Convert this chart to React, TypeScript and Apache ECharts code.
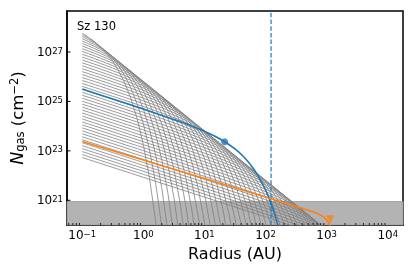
import React, { useEffect, useRef } from "react";
import * as echarts from "echarts";

// All positions are log10 values: x = log10(Radius / AU), y = log10(N_gas / cm^-2)
const X_MIN = -1.25;
const X_MAX = 4.25;
const Y_MIN = 20;
const Y_MAX = 28.66;
const START_LOG_R = -1;

const xTickExponents = [-1, 0, 1, 2, 3, 4];
const yTickExponents = [21, 23, 25, 27];
const minorDecades = [-2, -1, 0, 1, 2, 3, 4];
const minorMultipliers = [2, 3, 4, 5, 6, 7, 8, 9];

// Shape of one grey model curve (same profile, shifted for each cut-off radius)
const grayProfileLogR = [
  -4.6, -4.5, -4.4, -4.3, -4.2, -4.1, -4.0, -3.9, -3.8, -3.7, -3.6, -3.5, -3.4, -3.3, -3.2, -3.1,
  -3.0, -2.9, -2.8, -2.7, -2.6, -2.5, -2.4, -2.3, -2.2, -2.1, -2.0, -1.9, -1.8, -1.7, -1.6, -1.5,
  -1.4, -1.3, -1.2, -1.1, -1.0, -0.9, -0.8, -0.7, -0.6, -0.5, -0.4, -0.3, -0.2, -0.1, 0.0, 0.1,
  0.2, 0.3, 0.4, 0.5, 0.6, 0.7, 0.8, 0.9, 1.0, 1.1,
];
const grayProfileLogN = [
  3.68, 3.6, 3.52, 3.44, 3.36, 3.28, 3.2, 3.12, 3.04, 2.96, 2.88, 2.8, 2.72, 2.64, 2.56, 2.48,
  2.4, 2.32, 2.24, 2.16, 2.08, 2.0, 1.92, 1.839, 1.759, 1.679, 1.598, 1.518, 1.437, 1.356, 1.275, 1.193,
  1.111, 1.028, 0.944, 0.859, 0.773, 0.684, 0.592, 0.497, 0.397, 0.291, 0.176, 0.051, -0.09, -0.249, -0.434, -0.652,
  -0.914, -1.234, -1.631, -2.128, -2.758, -3.562, -4.598, -5.937, -7.679, -9.946,
];
// cut-off radius (log10 AU) and normalisation (log10 cm^-2) of each grey curve
const grayShiftLogR = [
  -0.8, -0.7, -0.6, -0.5, -0.4, -0.3, -0.2, -0.1, 0.0, 0.1, 0.2, 0.3, 0.4, 0.5, 0.6, 0.7,
  0.8, 0.9, 1.0, 1.1, 1.2, 1.3, 1.4, 1.5, 1.6, 1.7, 1.8, 1.9, 2.0, 2.1, 2.2, 2.3,
  2.4, 2.5, 2.6, 2.7, 2.8, 2.9, 3.0, 3.1, 3.2, 3.3, 3.4, 3.5, 3.6,
];
const grayShiftLogN = [
  27.85, 27.65, 27.45, 27.25, 27.05, 26.85, 26.65, 26.45, 26.25, 26.05, 25.85, 25.65, 25.45, 25.25, 25.05, 24.85,
  24.65, 24.45, 24.25, 24.05, 23.85, 23.65, 23.45, 23.25, 23.05, 22.85, 22.65, 22.45, 22.25, 22.05, 21.85, 21.65,
  21.45, 21.25, 21.05, 20.85, 20.65, 20.45, 20.25, 20.05, 19.85, 19.65, 19.45, 19.25, 19.05,
];

const blueLogR = [-1, -0.5, 0, 0.5, 0.75, 1, 1.25, 1.5, 1.65, 1.8, 1.9, 2.0, 2.1, 2.2, 2.3];
const blueLogN = [25.5, 25.1, 24.69, 24.27, 24.05, 23.79, 23.49, 23.08, 22.74, 22.29, 21.9, 21.42, 20.8, 20.02, 19.0];
const blueDot = [1.33, 23.37];

const orangeLogR = [-1, 0, 1, 2, 2.5, 2.75, 2.85, 2.95, 3.0, 3.05, 3.08];
const orangeLogN = [23.38, 22.63, 21.88, 21.13, 20.75, 20.55, 20.46, 20.33, 20.21, 20.02, 19.85];
const orangeTriangle = [3.06, 20.23];

const dashedLogR = 2.09;
const shadeTopLogN = 20.95;

const FONT = "DejaVu Sans";
const BLUE = "#1f77b4";
const ORANGE = "#ff7f0e";

function supText(n: number) {
  return n < 0 ? "\u2212" + Math.abs(n) : String(n);
}

export default function App() {
  const ref = useRef<HTMLDivElement>(null);

  useEffect(() => {
    const chart = echarts.init(ref.current!, null, { renderer: "svg" });

    const graySeries = grayShiftLogR.map((L, k) => {
      const off = grayShiftLogN[k];
      const data: number[][] = [];
      grayProfileLogR.forEach((v, i) => {
        const u = L + v;
        if (u >= START_LOG_R - 1e-6) data.push([u, off + grayProfileLogN[i]]);
      });
      return {
        type: "line",
        data,
        symbol: "none",
        silent: true,
        z: 3,
        clip: true,
        lineStyle: { color: "#808080", width: 0.8 },
      };
    });

    const minorTicks: number[][] = [];
    minorDecades.forEach((d) =>
      minorMultipliers.forEach((m) => {
        const u = Math.log10(m) + d;
        if (u > X_MIN && u < X_MAX) minorTicks.push([u, Y_MIN]);
      })
    );

    const labelRich = {
      sup: { fontSize: 8.5, fontFamily: FONT, color: "#000", verticalAlign: "top", lineHeight: 9 },
    };

    const option: any = {
      animation: false,
      grid: {
        left: 66,
        right: 12,
        top: 11,
        bottom: 52,
        show: true,
        borderColor: "#000",
        borderWidth: 1.5,
        backgroundColor: "transparent",
      },
      xAxis: {
        type: "value",
        min: X_MIN,
        max: X_MAX,
        splitNumber: 5,
        name: "Radius (AU)",
        nameLocation: "middle",
        nameGap: 17,
        nameTextStyle: { fontSize: 16, fontFamily: FONT, color: "#000" },
        axisLine: { show: true, onZero: false, lineStyle: { color: "#000", width: 1.5 } },
        axisTick: { show: true, inside: true, length: 3.5, lineStyle: { color: "#000", width: 1 } },
        splitLine: { show: false },
        axisLabel: {
          margin: 4,
          fontSize: 12,
          fontFamily: FONT,
          color: "#000",
          showMinLabel: false,
          showMaxLabel: false,
          formatter: (v: number) => {
            const n = Math.round(v);
            if (Math.abs(v - n) > 1e-6 || !xTickExponents.includes(n)) return "";
            return "10{sup|" + supText(n) + "}";
          },
          rich: labelRich,
        },
      },
      yAxis: {
        type: "value",
        min: Y_MIN,
        max: Y_MAX,
        interval: 1,
        name: "{it|N}{sub|gas} (cm{sup|\u22122})",
        nameLocation: "middle",
        nameGap: 18,
        nameTextStyle: {
          fontSize: 16.5,
          fontFamily: FONT,
          color: "#000",
          rich: {
            it: { fontSize: 17.5, fontStyle: "italic", fontFamily: FONT, color: "#000" },
            sub: { fontSize: 11.5, fontFamily: FONT, color: "#000", verticalAlign: "bottom", lineHeight: 13 },
            sup: { fontSize: 11.5, fontFamily: FONT, color: "#000", verticalAlign: "top", lineHeight: 11 },
          },
        },
        axisLine: { show: true, onZero: false, lineStyle: { color: "#000", width: 1.5 } },
        axisTick: { show: false },
        splitLine: { show: false },
        axisLabel: {
          margin: 4,
          fontSize: 12,
          fontFamily: FONT,
          color: "#000",
          showMinLabel: false,
          showMaxLabel: false,
          formatter: (v: number) => {
            const n = Math.round(v);
            if (Math.abs(v - n) > 1e-6 || !yTickExponents.includes(n)) return "";
            return "10{sup|" + supText(n) + "}";
          },
          rich: labelRich,
        },
      },
      graphic: [
        {
          type: "text",
          left: 77,
          top: 20,
          z: 100,
          style: { text: "Sz 130", fontSize: 11.5, fontFamily: FONT, fill: "#000" },
        },
      ],
      series: [
        {
          type: "custom",
          silent: true,
          z: 1,
          data: [[X_MIN, X_MAX, Y_MIN, shadeTopLogN]],
          encode: { x: [0, 1], y: [2, 3] },
          renderItem: (params: any, api: any) => {
            const p1 = api.coord([api.value(0), api.value(3)]);
            const p2 = api.coord([api.value(1), api.value(2)]);
            return {
              type: "rect",
              shape: { x: p1[0], y: p1[1], width: p2[0] - p1[0], height: p2[1] - p1[1] },
              style: { fill: "#b3b3b3", stroke: "#999999", lineWidth: 0.8 },
            };
          },
        },
        ...graySeries,
        {
          type: "line",
          data: blueLogR.map((u, i) => [u, blueLogN[i]]),
          symbol: "none",
          smooth: 0.3,
          silent: true,
          z: 5,
          clip: true,
          lineStyle: { color: BLUE, width: 1.6 },
        },
        {
          type: "line",
          data: orangeLogR.map((u, i) => [u, orangeLogN[i]]),
          symbol: "none",
          smooth: 0.3,
          silent: true,
          z: 5,
          clip: true,
          lineStyle: { color: ORANGE, width: 1.6 },
        },
        {
          type: "line",
          data: [
            [dashedLogR, Y_MIN],
            [dashedLogR, Y_MAX],
          ],
          symbol: "none",
          silent: true,
          z: 6,
          lineStyle: { color: BLUE, width: 1.2, type: [4.5, 2.2] },
        },
        {
          type: "scatter",
          data: [blueDot],
          symbol: "circle",
          symbolSize: 7,
          silent: true,
          z: 7,
          itemStyle: { color: BLUE },
        },
        {
          type: "scatter",
          data: [orangeTriangle],
          symbol: "triangle",
          symbolRotate: 180,
          symbolSize: 8,
          silent: true,
          z: 7,
          itemStyle: { color: ORANGE },
        },
        {
          type: "custom",
          silent: true,
          z: 8,
          data: minorTicks,
          renderItem: (params: any, api: any) => {
            const p = api.coord([api.value(0), api.value(1)]);
            return {
              type: "line",
              shape: { x1: p[0], y1: p[1], x2: p[0], y2: p[1] - 2 },
              style: { stroke: "#000", lineWidth: 0.8 },
            };
          },
        },
        {
          type: "custom",
          silent: true,
          z: 8,
          data: yTickExponents.map((n) => [X_MIN, n]),
          renderItem: (params: any, api: any) => {
            const p = api.coord([api.value(0), api.value(1)]);
            return {
              type: "line",
              shape: { x1: p[0], y1: p[1], x2: p[0] + 3.5, y2: p[1] },
              style: { stroke: "#000", lineWidth: 1 },
            };
          },
        },
      ],
    };

    chart.setOption(option);
    return () => chart.dispose();
  }, []);

  return (
    <div
      ref={ref}
      style={{ position: "fixed", left: 0, top: 0, width: 415, height: 277 }}
    />
  );
}
